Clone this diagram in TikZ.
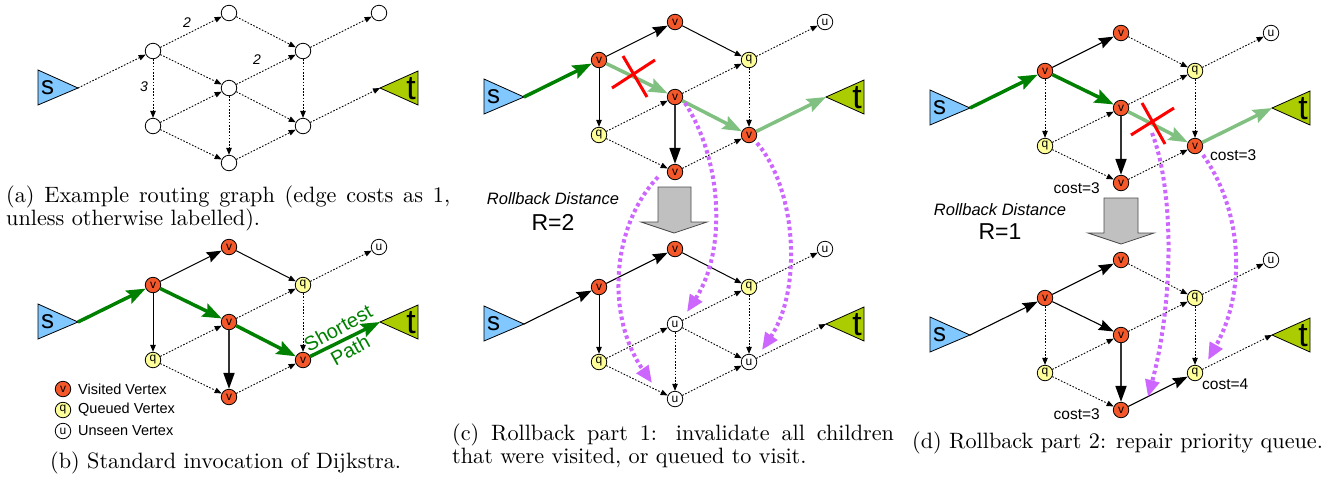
\documentclass[tikz,border=0pt]{standalone}
\usepackage{fontspec}
\setsansfont{Liberation Sans}
\usetikzlibrary{arrows.meta}

\definecolor{visitfill}{HTML}{F4582A}
\definecolor{queuefill}{HTML}{FFFF99}
\definecolor{srcblue}{HTML}{80C8FF}
\definecolor{sinkgreen}{HTML}{AACC00}
\definecolor{bestgreen}{HTML}{008000}
\definecolor{stalegreen}{HTML}{80C080}
\definecolor{rollviolet}{HTML}{CC66FF}
\definecolor{blockgray}{HTML}{C0C0C0}

\newcommand\sfpx[1]{\sffamily\fontsize{#1}{#1}\selectfont}
\newcommand\capline[1]{\scalebox{2.22}{#1}}
\def\lblv{v}\def\lblq{q}\def\lblu{u}\def\lblo{}

\tikzset{
  vbase/.style={circle,draw=black,line width=0.8pt,minimum size=15.5pt,inner sep=0pt,font=\sfpx{12}},
  stv/.style={vbase,fill=visitfill},
  stq/.style={vbase,fill=queuefill},
  stu/.style={vbase,fill=white},
  sto/.style={vbase,fill=white},
  dotedge/.style={line width=0.9pt,dash pattern=on 1.6pt off 1.6pt,-{Triangle[length=7pt,width=5.5pt]}},
  thinedge/.style={line width=1pt,-{Triangle[length=7pt,width=5.5pt]}},
  bigedge/.style={line width=1.1pt,-{Stealth[length=15pt,width=11pt,inset=2pt]}},
  heavyedge/.style={draw=black!80,line width=1.8pt,-{Triangle[length=16pt,width=11pt,color=black]}},
  bestedge/.style={draw=bestgreen,line width=3.5pt,-{Stealth[length=19pt,width=14pt,inset=3pt]}},
  staleedge/.style={draw=stalegreen,line width=3.5pt,-{Stealth[length=19pt,width=14pt,inset=3pt]}},
  rollarrow/.style={draw=rollviolet,line width=4pt,dash pattern=on 3.5pt off 3pt,-{Triangle[length=17pt,width=14pt]}},
  crossmark/.style={draw=red,line width=3pt},
  blockarrow/.style={draw=black!70,line width=0.8pt,fill=blockgray},
  costlbl/.style={font=\sfpx{15.5},inner sep=0pt},
  rolltxt/.style={font=\sfpx{16.5}\itshape,inner sep=0pt},
  rollval/.style={font=\sfpx{23},inner sep=0pt},
  weightlbl/.style={font=\sfpx{14}\itshape,inner sep=0pt},
  legendtxt/.style={font=\sfpx{14.5},inner sep=0pt,anchor=west},
  captxt/.style={anchor=base west,inner sep=0pt},
}

% one vertex: name, kind (v/q/u/o), position
\newcommand\vx[4]{\node[st#2] (#1) at (#3,#4) {\csname lbl#2\endcsname};}
% the eight vertices of one graph copy
\newcommand\vxset[9]{%
  \vx{#11}{#2}{153}{51}
  \vx{#12}{#3}{229}{13}
  \vx{#13}{#4}{229}{88}
  \vx{#14}{#5}{153}{126}
  \vx{#15}{#6}{229}{163}
  \vx{#16}{#7}{303}{51}
  \vx{#17}{#8}{303}{126}
  \vx{#18}{#9}{379}{13}}
% source and sink triangles
\newcommand\terminals[1]{%
  \draw[line width=0.8pt,fill=srcblue] (38,70) -- (78,88) -- (38,105) -- cycle;
  \coordinate (#1s) at (78,88);
  \node[font=\sfpx{26},inner sep=0pt] (#1slbl) at (47.5,88) {s};
  \draw[line width=0.8pt,fill=sinkgreen] (418,71) -- (380,88) -- (418,105) -- cycle;
  \coordinate (#1t) at (380,88);
  \node[font=\sfpx{34},inner sep=0pt] (#1tlbl) at (411,89) {t};}
\newcommand\graphcopy[4]{%
  \begin{scope}[shift={(#2,#3)}]
    \terminals{#1}
    #4
  \end{scope}}

\begin{document}
\begin{tikzpicture}[x=1pt,y=-1pt]
\useasboundingbox (0,0) rectangle (1343,483);

% ---------------- (a) example graph ----------------
\graphcopy{A}{0}{0}{\vxset{A}{o}{o}{o}{o}{o}{o}{o}{o}}
\foreach \u/\w in {As/A1,A1/A2,A1/A3,A1/A4,A2/A6,A3/A6,A3/A7,A3/A5,A4/A3,A4/A5,A5/A7,A6/A8,A6/A7,A7/At}
  \draw[dotedge] (\u) -- (\w);
\node[weightlbl] (wa) at (187,23) {2};
\node[weightlbl] (wb) at (257,60) {2};
\node[weightlbl] (wc) at (144,87) {3};

% ---------------- (b) Dijkstra ----------------
\graphcopy{B}{0}{234}{\vxset{B}{v}{v}{v}{q}{v}{q}{v}{u}}
\draw[bestedge] (Bs) -- (B1);
\draw[bigedge] (B1) -- (B2);
\draw[bestedge] (B1) -- (B3);
\draw[thinedge] (B1) -- (B4);
\draw[thinedge] (B2) -- (B6);
\draw[heavyedge] (B3) -- (B5);
\draw[bestedge] (B3) -- (B7);
\draw[bestedge] (B7) -- (Bt);
\foreach \u/\w in {B3/B6,B4/B3,B4/B5,B5/B7,B6/B8,B6/B7}
  \draw[dotedge] (\u) -- (\w);
\node[font=\sffamily\fontsize{20}{25}\selectfont,text=bestgreen,rotate=29,inner sep=0pt,align=center] (lshort) at (344,339) {Shortest\\Path};

\node[stv] (kv) at (63,389) {v};
\node[legendtxt] (kvt) at (78,389) {Visited Vertex};
\node[stq] (kq) at (63,410) {q};
\node[legendtxt] (kqt) at (78,410) {Queued Vertex};
\node[stu] (ku) at (63,431) {u};
\node[legendtxt] (kut) at (78,431) {Unseen Vertex};

% ---------------- (c) rollback part 1 ----------------
\graphcopy{C}{446}{9}{\vxset{C}{v}{v}{v}{q}{v}{q}{v}{u}}
\draw[bestedge] (Cs) -- (C1);
\draw[bigedge] (C1) -- (C2);
\draw[staleedge] (C1) -- (C3);
\draw[thinedge] (C1) -- (C4);
\draw[thinedge] (C2) -- (C6);
\draw[heavyedge] (C3) -- (C5);
\draw[staleedge] (C3) -- (C7);
\draw[staleedge] (C7) -- (Ct);
\foreach \u/\w in {C3/C6,C4/C3,C4/C5,C5/C7,C6/C8,C6/C7}
  \draw[dotedge] (\u) -- (\w);
\draw[crossmark] (623,56) -- (647,97);
\draw[crossmark] (612,88) -- (655,60);

\draw[blockarrow] (658,187) -- (691,187) -- (691,222) -- (707,222) -- (674,233) -- (641,222) -- (658,222) -- cycle;
\node[rolltxt] (rbc) at (553,199) {Rollback Distance};
\node[rollval] (rvc) at (553,222) {R=2};

\graphcopy{D}{446}{236}{\vxset{D}{v}{v}{u}{q}{u}{q}{u}{u}}
\draw[bigedge] (Ds) -- (D1);
\draw[bigedge] (D1) -- (D2);
\draw[thinedge] (D1) -- (D4);
\draw[thinedge] (D2) -- (D6);
\foreach \u/\w in {D3/D6,D3/D7,D3/D5,D4/D3,D4/D5,D5/D7,D6/D8,D6/D7,D7/Dt}
  \draw[dotedge] (\u) -- (\w);

\draw[rollarrow] (658,177) .. controls (612,225) and (605,315) .. (652,383);
\draw[rollarrow] (685,103) .. controls (722,160) and (727,250) .. (687,312);
\draw[rollarrow] (757,143) .. controls (797,190) and (802,290) .. (762,350);

% ---------------- (d) rollback part 2 ----------------
\graphcopy{E}{892}{20}{\vxset{E}{v}{v}{v}{q}{v}{q}{v}{u}}
\draw[bestedge] (Es) -- (E1);
\draw[bigedge] (E1) -- (E2);
\draw[bestedge] (E1) -- (E3);
\draw[heavyedge] (E3) -- (E5);
\draw[staleedge] (E3) -- (E7);
\draw[staleedge] (E7) -- (Et);
\foreach \u/\w in {E1/E4,E2/E6,E3/E6,E4/E3,E4/E5,E5/E7,E6/E8,E6/E7}
  \draw[dotedge] (\u) -- (\w);
\draw[crossmark] (1142,103) -- (1165,144);
\draw[crossmark] (1131,135) -- (1174,108);
\node[costlbl,anchor=west] (ce7) at (1210,155) {cost=3};
\node[costlbl,anchor=east] (ce5) at (1100,188) {cost=3};

\draw[blockarrow] (1104,198) -- (1138,198) -- (1138,233) -- (1154,233) -- (1121,244) -- (1088,233) -- (1104,233) -- cycle;
\node[rolltxt] (rbd) at (1000,210) {Rollback Distance};
\node[rollval] (rvd) at (1000,232) {R=1};

\graphcopy{F}{892}{247}{\vxset{F}{v}{v}{v}{q}{v}{q}{q}{u}}
\draw[bigedge] (Fs) -- (F1);
\draw[bigedge] (F1) -- (F2);
\draw[bigedge] (F1) -- (F3);
\draw[heavyedge] (F3) -- (F5);
\draw[bigedge] (F5) -- (F7);
\foreach \u/\w in {F1/F4,F2/F6,F3/F6,F4/F3,F4/F5,F6/F8,F6/F7,F7/Ft}
  \draw[dotedge] (\u) -- (\w);
\node[costlbl,anchor=west] (cf7) at (1202,384) {cost=4};
\node[costlbl,anchor=east] (cf5) at (1100,414) {cost=3};

\draw[rollarrow] (1152,133) .. controls (1174,190) and (1174,300) .. (1148,397);
\draw[rollarrow] (1203,155) .. controls (1242,210) and (1247,290) .. (1208,360);

% ---------------- captions ----------------
\node[captxt] (capa1) at (6,202) {\capline{\makebox[200pt][s]{(a) Example routing graph (edge costs as 1,}}};
\node[captxt] (capa2) at (6,225) {\capline{unless otherwise labelled).}};
\node[captxt] (capb) at (50,468) {\capline{(b) Standard invocation of Dijkstra.}};
\node[captxt] (capc1) at (452,440) {\capline{\makebox[199pt][s]{(c) Rollback part 1: invalidate all children}}};
\node[captxt] (capc2) at (452,463) {\capline{that were visited, or queued to visit.}};
\node[captxt] (capd) at (912,448) {\capline{(d) Rollback part 2: repair priority queue.}};
\end{tikzpicture}
\end{document}
